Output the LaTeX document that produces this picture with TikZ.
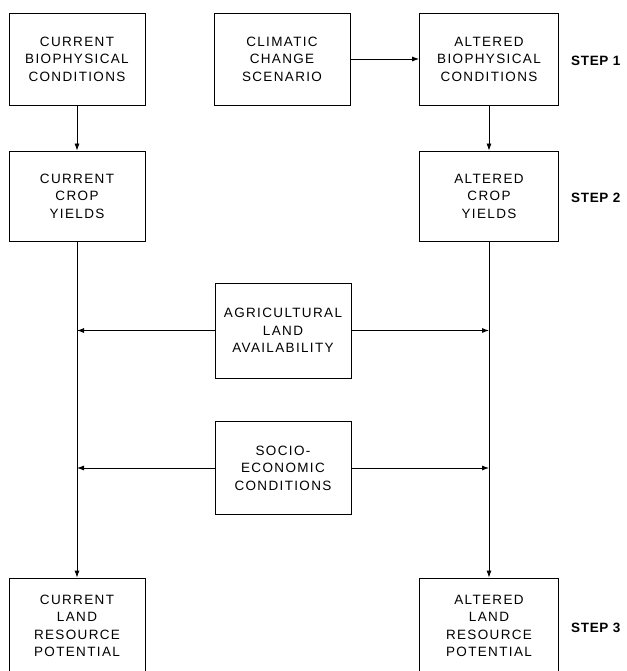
\documentclass[tikz,border=0pt]{standalone}
\usepackage{fontspec}
\setmainfont{Liberation Sans}
\newfontfamily\boxfont[LetterSpace=10]{Liberation Sans}
\newfontfamily\stepfont[LetterSpace=5]{Liberation Sans}
\usetikzlibrary{arrows.meta}
\begin{document}
\begin{tikzpicture}[x=1pt,y=-1pt,
  box/.style={draw,line width=0.8pt,minimum width=136pt,inner sep=0pt,align=center,
    font=\boxfont\fontsize{13.5}{17.5}\selectfont},
  steplabel/.style={anchor=base west,inner sep=0pt,font=\stepfont\bfseries\fontsize{13.5}{16}\selectfont},
  arr/.style={line width=0.8pt,-{Latex[length=7pt,width=5pt]}}]
\useasboundingbox (0,0) rectangle (626,671);
\clip (0,0) rectangle (626,671);
% row 1
\node[box,minimum height=92pt] (L1) at (77,59) {CURRENT\\BIOPHYSICAL\\CONDITIONS};
\node[box,minimum height=92pt] (M1) at (282,59) {CLIMATIC\\CHANGE\\SCENARIO};
\node[box,minimum height=92pt,minimum width=139pt] (R1) at (489,59) {ALTERED\\BIOPHYSICAL\\CONDITIONS};
% row 2
\node[box,minimum height=90pt] (L2) at (77,196) {CURRENT\\CROP\\YIELDS};
\node[box,minimum height=90pt,minimum width=139pt] (R2) at (489,196) {ALTERED\\CROP\\YIELDS};
% middle inputs
\node[box,minimum height=95pt] (A) at (283,330.5) {AGRICULTURAL\\LAND\\AVAILABILITY};
\node[box,minimum height=93pt] (S) at (283,468) {SOCIO-\\ECONOMIC\\CONDITIONS};
% row 3
\node[box,minimum height=96pt] (L3) at (77,626) {CURRENT\\LAND\\RESOURCE\\POTENTIAL};
\node[box,minimum height=96pt,minimum width=139pt] (R3) at (489,626) {ALTERED\\LAND\\RESOURCE\\POTENTIAL};
% step labels
\node[steplabel] (s1) at (571,66) {STEP 1};
\node[steplabel] (s2) at (571,202) {STEP 2};
\node[steplabel] (s3) at (571,632) {STEP 3};
% connectors
\draw[arr] (M1.east) -- (R1.west);
\draw[arr] (L1.south) -- (L2.north);
\draw[arr] (R1.south) -- (R2.north);
\draw[arr] (L2.south) -- (L3.north);
\draw[arr] (R2.south) -- (R3.north);
\draw[arr] (A.west) -- (A.west -| L2.south);
\draw[arr] (A.east) -- (A.east -| R2.south);
\draw[arr] (S.west) -- (S.west -| L2.south);
\draw[arr] (S.east) -- (S.east -| R2.south);
\end{tikzpicture}
\end{document}
